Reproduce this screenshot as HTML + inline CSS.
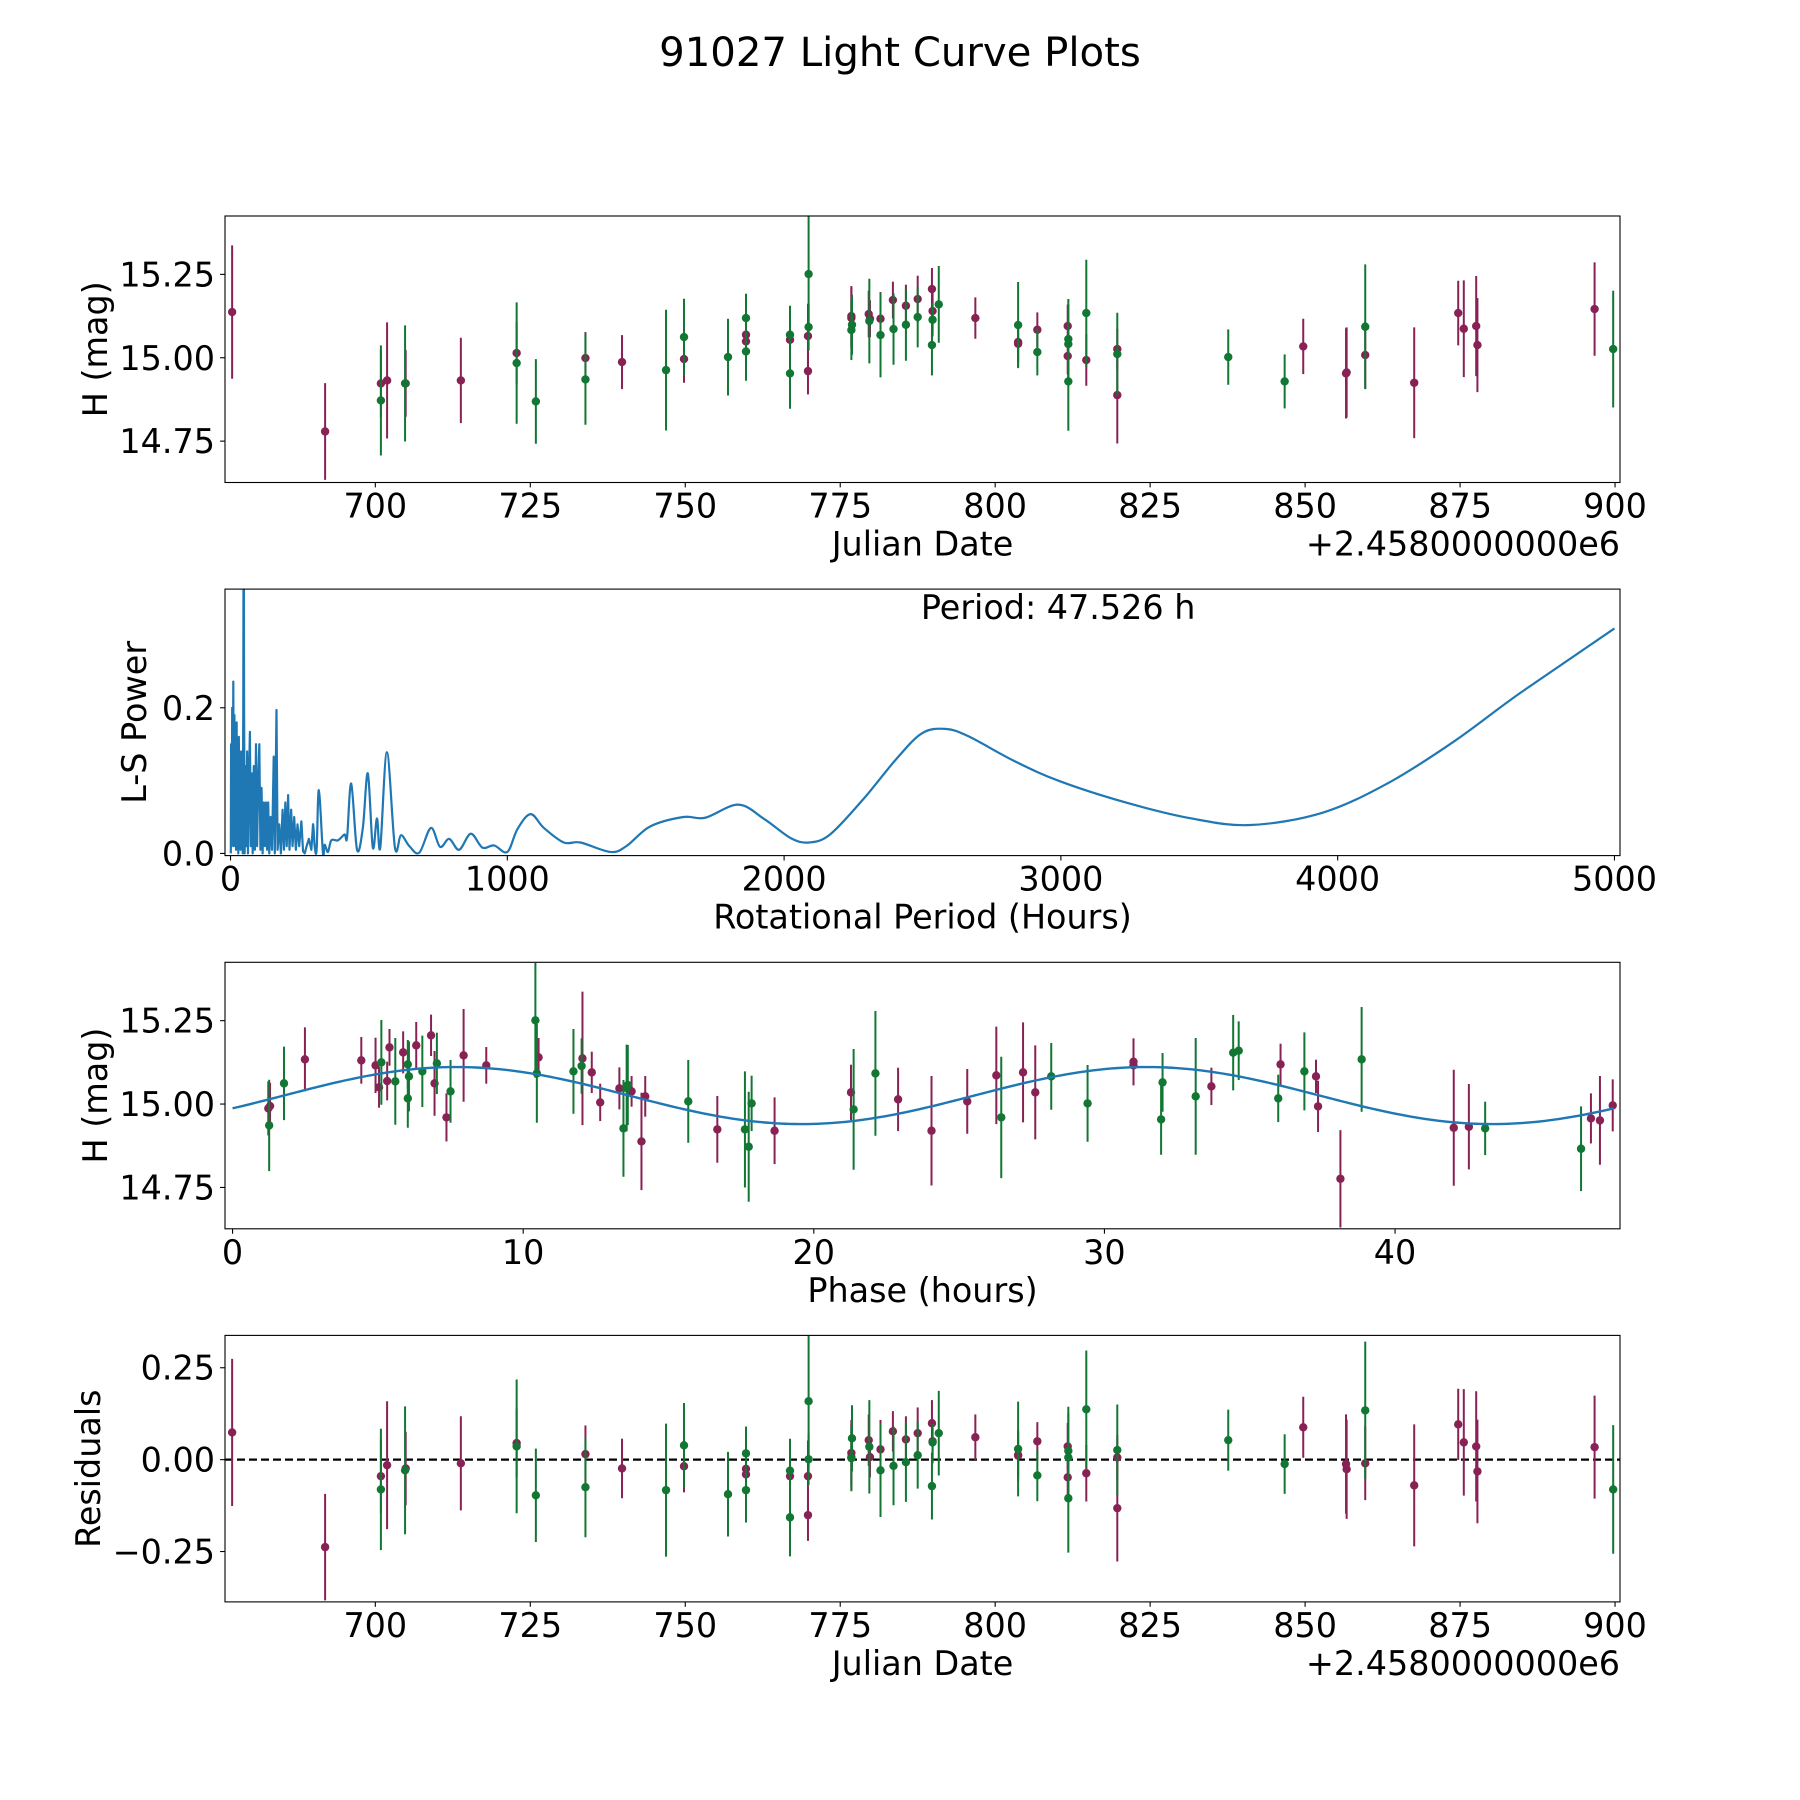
<!DOCTYPE html>
<html><head><meta charset="utf-8"><title>91027 Light Curve Plots</title>
<style>
html,body{margin:0;padding:0;background:#fff;}
svg{display:block;font-family:"DejaVu Sans","Liberation Sans",sans-serif;}
</style></head>
<body>
<svg id="fig" width="1800" height="1800" viewBox="0 0 1800 1800" xmlns="http://www.w3.org/2000/svg">
<rect x="0" y="0" width="1800" height="1800" fill="#fff"/>
<text x="900" y="66" text-anchor="middle" font-size="40.2" fill="#000">91027 Light Curve Plots</text>
</svg>
<script>
// ---------- light curve data (Julian date offset from 2458000) ----------
const jd = [676.9,691.9,700.9,700.9,701.9,704.9,704.8,713.8,722.8,722.8,725.9,733.9,733.9,739.8,746.9,749.8,749.8,756.9,759.8,759.8,759.8,759.8,766.9,766.9,766.9,769.9,769.9,769.8,769.8,776.8,776.8,776.9,776.8,779.6,779.7,779.8,781.5,781.5,783.5,783.6,785.6,785.6,787.5,787.5,789.8,789.9,789.9,789.8,790.9,796.8,803.7,803.7,803.7,806.8,806.8,811.7,811.8,811.8,811.7,811.8,814.7,814.7,819.7,819.7,819.7,837.6,846.7,849.7,856.6,856.7,859.7,859.7,867.6,874.7,875.6,877.6,877.8,896.7,899.7];
const mag = [15.137,14.779,14.923,14.872,14.932,14.923,14.923,14.932,15.014,14.984,14.869,14.999,14.935,14.987,14.963,14.996,15.062,15.002,15.119,15.069,15.049,15.019,15.069,15.054,14.953,15.251,15.092,15.065,14.960,15.125,15.119,15.099,15.083,15.131,15.110,15.117,15.117,15.068,15.173,15.086,15.156,15.099,15.176,15.122,15.206,15.140,15.114,15.038,15.160,15.119,15.098,15.047,15.042,15.084,15.017,15.095,15.056,15.041,15.005,14.929,15.134,14.993,15.011,15.026,14.888,15.002,14.929,15.034,14.953,14.956,15.093,15.008,14.925,15.134,15.087,15.095,15.038,15.146,15.026];
const magErr = [0.20,0.145,0.10,0.165,0.174,0.10,0.174,0.128,0.094,0.182,0.127,0.078,0.136,0.081,0.181,0.071,0.115,0.115,0.073,0.06,0.06,0.088,0.087,0.057,0.106,0.178,0.07,0.097,0.07,0.09,0.09,0.09,0.09,0.07,0.127,0.055,0.08,0.127,0.055,0.107,0.063,0.108,0.07,0.091,0.063,0.06,0.05,0.091,0.115,0.062,0.129,0.06,0.07,0.052,0.07,0.064,0.12,0.12,0.055,0.148,0.16,0.077,0.124,0.061,0.145,0.083,0.081,0.083,0.135,0.135,0.187,0.10,0.166,0.097,0.145,0.15,0.141,0.14,0.175];
const band = ["p","p","p","g","p","p","g","p","p","g","g","p","g","p","g","p","g","g","g","p","p","g","g","p","g","g","g","p","p","p","p","g","g","p","g","p","p","g","p","g","p","g","p","g","p","p","g","g","g","p","g","p","p","p","g","p","g","g","p","g","g","p","g","p","p","g","g","p","p","p","g","p","p","p","p","p","p","p","g"];
const resid = [0.074,-0.238,-0.045,-0.081,-0.015,-0.024,-0.029,-0.010,0.045,0.036,-0.097,0.015,-0.075,-0.024,-0.083,-0.018,0.039,-0.094,0.017,-0.025,-0.040,-0.083,-0.030,-0.045,-0.157,0.159,0.001,-0.045,-0.151,0.018,0.007,0.058,0.004,0.053,0.035,0.007,0.028,-0.029,0.077,-0.017,0.055,-0.007,0.072,0.012,0.099,0.050,0.047,-0.072,0.072,0.061,0.029,0.013,0.011,0.050,-0.043,0.036,0.024,0.006,-0.048,-0.105,0.137,-0.037,0.026,0.006,-0.132,0.053,-0.012,0.088,-0.012,-0.026,0.134,-0.010,-0.070,0.096,0.047,0.036,-0.032,0.034,-0.081];

// ---------- phased data ----------
const phase = [1.23,1.29,1.26,1.77,2.49,4.43,4.92,5.12,5.04,5.32,5.40,5.60,5.87,6.03,6.07,6.03,6.32,6.53,6.83,6.95,7.03,7.36,7.50,7.95,8.73,10.42,10.47,10.53,11.73,12.01,12.04,12.36,12.65,13.31,13.45,13.56,13.60,13.73,14.07,14.20,15.68,16.68,17.63,17.76,17.86,18.65,21.28,21.37,22.12,22.90,24.05,25.28,26.28,26.45,27.20,27.62,28.17,29.42,31.00,31.00,32.00,31.95,33.14,33.68,34.43,34.62,35.98,36.06,36.88,37.28,37.35,38.12,38.85,42.02,42.54,43.10,46.40,46.74,47.05,47.49];
const phaseMag = [14.987,14.994,14.936,15.062,15.134,15.131,15.116,15.125,15.050,15.069,15.170,15.068,15.155,15.119,15.083,15.017,15.176,15.098,15.206,15.062,15.122,14.960,15.038,15.146,15.116,15.251,15.092,15.140,15.098,15.114,15.137,15.095,15.005,15.047,14.927,15.048,15.057,15.038,14.888,15.023,15.008,14.924,14.924,14.872,15.002,14.920,15.035,14.984,15.092,15.014,14.920,15.008,15.086,14.960,15.095,15.035,15.083,15.002,15.127,15.116,15.065,14.954,15.023,15.053,15.154,15.160,15.017,15.119,15.098,15.083,14.993,14.776,15.134,14.929,14.932,14.927,14.866,14.957,14.951,14.996];
const phaseErr = [0.081,0.07,0.137,0.11,0.096,0.07,0.083,0.127,0.061,0.058,0.055,0.13,0.063,0.073,0.105,0.088,0.07,0.107,0.062,0.097,0.092,0.072,0.094,0.139,0.055,0.172,0.148,0.058,0.127,0.083,0.20,0.062,0.056,0.063,0.145,0.13,0.12,0.046,0.146,0.061,0.124,0.10,0.174,0.165,0.083,0.10,0.083,0.181,0.187,0.095,0.164,0.097,0.146,0.182,0.15,0.141,0.10,0.115,0.07,0.06,0.088,0.106,0.175,0.056,0.113,0.088,0.071,0.062,0.117,0.05,0.077,0.146,0.157,0.174,0.128,0.08,0.127,0.075,0.133,0.078];
const phaseBand = ["p","p","g","g","p","p","p","g","p","p","p","g","p","g","g","g","p","g","p","p","g","p","g","p","p","g","g","p","g","g","p","p","p","p","g","g","g","p","p","p","g","p","g","g","g","p","p","g","g","p","p","p","p","g","p","p","g","g","p","p","g","g","g","p","g","g","g","p","g","p","p","p","g","p","p","g","g","p","p","p"];

// ---------- fitted model (double-peaked sinusoid) ----------
const modelMean = [15.0255];
const modelAmp = [0.0855];
const modelPeakPhase = [7.7];
const modelPeriod = [47.526];

// ---------- Lomb-Scargle periodogram ----------
const lsPeriod = [1,2,4,6,8,10,12,14,16,18,20,22,24,26,28,30,32,34,36,38,40,42,44,46,47.5,49,51,54,57,60,63,66,70,73,77,80,84,88,92,96,100,104,108,112,116,120,124,128,132,136,140,145,150,156,160,166,170,176,182,188,193,198,203,208,213,219,224,230,236,242,248,256,262,268,275,283,292,298,304,311,319,334,340,352,364,388,412,421,436,457,478,496,514,529,541,565,594,616,646,682,724,757,790,826,868,910,952,1000,1036,1084,1132,1204,1264,1372,1430,1516,1636,1715,1834,1929,2024,2090,2166,2285,2404,2498,2582,2665,2831,2997,3234,3472,3685,3946,4184,4421,4658,5000];
const lsPower = [0.0,0.15,0.01,0.20,0.02,0.236,0.01,0.19,0.02,0.17,0.005,0.18,0.03,0.15,0.0,0.16,0.02,0.12,0.005,0.14,0.01,0.11,0.0,0.20,0.55,0.20,0.0,0.12,0.01,0.14,0.0,0.09,0.167,0.01,0.11,0.0,0.12,0.005,0.15,0.01,0.10,0.15,0.005,0.09,0.0,0.07,0.01,0.07,0.005,0.07,0.0,0.05,0.005,0.133,0.0,0.197,0.005,0.04,0.0,0.06,0.005,0.07,0.01,0.08,0.005,0.06,0.01,0.05,0.005,0.04,0.01,0.044,0.003,0.0,0.01,0.02,0.005,0.04,0.01,0.005,0.087,0.0,0.012,0.002,0.018,0.018,0.026,0.022,0.096,0.005,0.035,0.11,0.008,0.048,0.008,0.139,0.008,0.025,0.01,0.001,0.035,0.009,0.02,0.005,0.027,0.008,0.011,0.002,0.033,0.054,0.035,0.015,0.015,0.002,0.010,0.037,0.05,0.049,0.067,0.047,0.021,0.015,0.026,0.074,0.129,0.165,0.171,0.161,0.127,0.099,0.07,0.048,0.039,0.056,0.097,0.154,0.22,0.309];

// ---------- tick labels ----------
const jdTicks = [700,725,750,775,800,825,850,875,900];
const magTicks = [14.75,15.00,15.25];
const magTickLabels = ["14.75","15.00","15.25"];
const lsXTicks = [0,1000,2000,3000,4000,5000];
const lsYTicks = [0.0,0.2];
const lsYTickLabels = ["0.0","0.2"];
const phaseTicks = [0,10,20,30,40];
const residTicks = [-0.25,0.00,0.25];
const residTickLabels = ["\u22120.25","0.00","0.25"];

// ---------- layout ----------
const NS = "http://www.w3.org/2000/svg";
const svg = document.getElementById("fig");
const L = 225, R = 1620, H = 266.5;
const tops = [216, 589.1, 962.3, 1335.4];
const COL = {p:"#882255", g:"#117733"};
const FS = 33.4;

function el(tag, attrs, parent){
  const e = document.createElementNS(NS, tag);
  for (const k in attrs) e.setAttribute(k, attrs[k]);
  (parent||svg).appendChild(e);
  return e;
}
function scale(d0,d1,p0,p1){ return v => p0 + (v-d0)*(p1-p0)/(d1-d0); }

function makePanel(idx, name, xlim, ylim){
  const top = tops[idx], bot = top + H;
  const g = el("g", {});
  
  
  const cp = el("clipPath", {id:"clip"+idx}, g);
  el("rect", {x:L, y:top, width:R-L, height:H}, cp);
  const data = el("g", {"clip-path":"url(#clip"+idx+")"}, g);
  
  
  return {g, data, top, bot, x:scale(xlim[0],xlim[1],L,R), y:scale(ylim[0],ylim[1],bot,top)};
}

function frame(p, name){
  const r = el("rect", {x:L, y:p.top, width:R-L, height:H, fill:"none", stroke:"#000", "stroke-width":1.1}, p.g);
  
  
}

function xTicks(p, vals, labels, name){
  vals.forEach((v,i)=>{
    const X = p.x(v);
    const t = el("line", {x1:X, x2:X, y1:p.bot, y2:p.bot+4.9, stroke:"#000", "stroke-width":1.1}, p.g);
    
    
    const tx = el("text", {x:X, y:p.bot+35, "text-anchor":"middle", "font-size":FS}, p.g);
    tx.textContent = labels[i];
    
    
  });
}
function yTicks(p, vals, labels, name){
  vals.forEach((v,i)=>{
    const Y = p.y(v);
    const t = el("line", {x1:L-4.9, x2:L, y1:Y, y2:Y, stroke:"#000", "stroke-width":1.1}, p.g);
    
    
    const tx = el("text", {x:L-10, y:Y+12, "text-anchor":"end", "font-size":FS}, p.g);
    tx.textContent = labels[i];
    
    
  });
}
function xLabel(p, text, name){
  const t = el("text", {x:(L+R)/2, y:p.bot+73, "text-anchor":"middle", "font-size":FS}, p.g);
  t.textContent = text;
  
  
}
function yLabel(p, text, xpos, name){
  const cy = (p.top+p.bot)/2;
  const t = el("text", {x:xpos, y:cy, "text-anchor":"middle", "font-size":FS, transform:"rotate(-90 "+xpos+" "+cy+")"}, p.g);
  t.textContent = text;
  
  
}
function offsetText(p){
  const t = el("text", {x:R, y:p.bot+73, "text-anchor":"end", "font-size":FS}, p.g);
  t.textContent = "+2.4580000000e6";
  
  
}
function errPoints(p, xs, ys, es, bs, name){
  ["p","g"].forEach(b=>{
    for (let i=0;i<xs.length;i++){
      if (bs[i]!==b) continue;
      const X = p.x(xs[i]);
      const ln = el("line", {x1:X, x2:X, y1:p.y(ys[i]-es[i]), y2:p.y(ys[i]+es[i]), stroke:COL[b], "stroke-width":2}, p.data);
      
      
      const c = el("circle", {cx:X, cy:p.y(ys[i]), r:4.2, fill:COL[b]}, p.data);
      
      
    }
  });
}
const fmtInt = v => String(v);

// ---------- panel 1: light curve ----------
const p1 = makePanel(0, "light-curve-panel", [675.75,900.8], [14.626,15.425]);
errPoints(p1, jd, mag, magErr, band, "light-curve");
frame(p1, "light-curve");
xTicks(p1, jdTicks, jdTicks.map(fmtInt), "light-curve");
yTicks(p1, magTicks, magTickLabels, "light-curve");
xLabel(p1, "Julian Date", "light-curve-x-axis-title");
offsetText(p1);
yLabel(p1, "H (mag)", 107, "light-curve-y-axis-title");

// ---------- panel 2: periodogram ----------
const p2 = makePanel(1, "periodogram-panel", [-20,5020], [-0.003,0.363]);
const pts = lsPeriod.map((v,i)=>[p2.x(v), p2.y(lsPower[i])]);
let d = "M" + pts[0][0].toFixed(2) + " " + pts[0][1].toFixed(2);
for (let i=1;i<pts.length;i++){
  if (lsPeriod[i] < 300 || i >= pts.length-1 || i < 2){
    d += "L" + pts[i][0].toFixed(2) + " " + pts[i][1].toFixed(2);
  } else {
    const p0 = pts[i-2], a = pts[i-1], b = pts[i], p3 = pts[i+1];
    const c1x = a[0] + (b[0]-p0[0])/6, c1y = a[1] + (b[1]-p0[1])/6;
    const c2x = b[0] - (p3[0]-a[0])/6, c2y = b[1] - (p3[1]-a[1])/6;
    d += "C" + c1x.toFixed(2) + " " + c1y.toFixed(2) + " " + c2x.toFixed(2) + " " + c2y.toFixed(2) + " " + b[0].toFixed(2) + " " + b[1].toFixed(2);
  }
}
const lsLine = el("path", {d:d, fill:"none", stroke:"#1f77b4", "stroke-width":2.2, "stroke-linejoin":"round"}, p2.data);


frame(p2, "periodogram");
xTicks(p2, lsXTicks, lsXTicks.map(fmtInt), "periodogram");
yTicks(p2, lsYTicks, lsYTickLabels, "periodogram");
xLabel(p2, "Rotational Period (Hours)", "periodogram-x-axis-title");
yLabel(p2, "L-S Power", 146, "periodogram-y-axis-title");
const per = el("text", {x:p2.x(2990), y:p2.top+30, "text-anchor":"middle", "font-size":FS}, p2.g);
per.textContent = "Period: 47.526 h";



// ---------- panel 3: phased light curve ----------
const p3 = makePanel(2, "phase-panel", [-0.26,47.74], [14.626,15.425]);
let md = "";
for (let k=0;k<=300;k++){
  const ph = modelPeriod[0]*k/300;
  const v = modelMean[0] + modelAmp[0]*Math.cos(2*Math.PI*(ph-modelPeakPhase[0])/(modelPeriod[0]/2));
  md += (k?"L":"M") + p3.x(ph).toFixed(2) + " " + p3.y(v).toFixed(2);
}
errPoints(p3, phase, phaseMag, phaseErr, phaseBand, "phase");
const mline = el("path", {d:md, fill:"none", stroke:"#1f77b4", "stroke-width":2.4}, p3.data);


frame(p3, "phase");
xTicks(p3, phaseTicks, phaseTicks.map(fmtInt), "phase");
yTicks(p3, magTicks, magTickLabels, "phase");
xLabel(p3, "Phase (hours)", "phase-x-axis-title");
yLabel(p3, "H (mag)", 107, "phase-y-axis-title");

// ---------- panel 4: residuals ----------
const p4 = makePanel(3, "residuals-panel", [675.75,900.8], [-0.387,0.338]);
const zl = el("line", {x1:L, x2:R, y1:p4.y(0), y2:p4.y(0), stroke:"#000", "stroke-width":2.2, "stroke-dasharray":"8,4"}, p4.data);


errPoints(p4, jd, resid, magErr, band, "residual");
frame(p4, "residuals");
xTicks(p4, jdTicks, jdTicks.map(fmtInt), "residuals");
yTicks(p4, residTicks, residTickLabels, "residuals");
xLabel(p4, "Julian Date", "residuals-x-axis-title");
offsetText(p4);
yLabel(p4, "Residuals", 100, "residuals-y-axis-title");
</script>
</body></html>
